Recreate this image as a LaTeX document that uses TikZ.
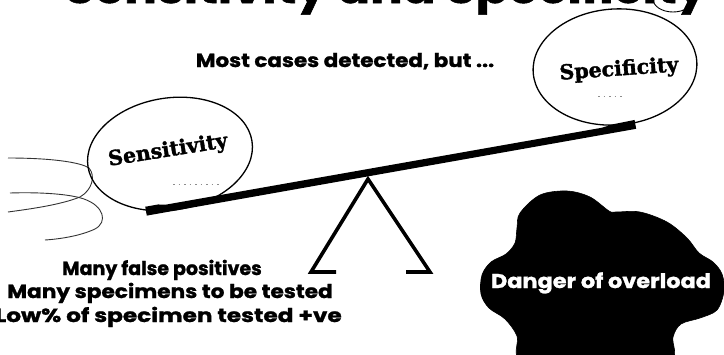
\documentclass[tikz,border=0pt]{standalone}
\usepackage{fontspec}
\setmainfont{Poppins}[BoldFeatures={FakeBold=1.2}]
\newfontfamily\ovalfont{DejaVu Serif}[BoldFeatures={FakeBold=1.6}]
\begin{document}
\begin{tikzpicture}[x=1pt,y=-1pt,
  headline/.style={font=\fontsize{44}{48}\selectfont\bfseries, inner sep=0pt, anchor=base, xscale=1.1},
  caption/.style={font=\fontsize{19}{22}\selectfont\bfseries, inner sep=0pt, anchor=base},
  lead/.style={font=\fontsize{19}{22}\selectfont\bfseries, inner sep=0pt, anchor=base, xscale=1.13},
  ovaltext/.style={font=\ovalfont\fontsize{20.5}{24}\selectfont\bfseries, inner sep=0pt},
  oval/.style={draw=black, line width=1.3pt},
  lasso/.style={draw=black!80, line width=0.9pt},
  specks/.style={draw=black!45, line width=0.8pt, dash pattern=on 1.5pt off 4pt},
  leg/.style={draw=black, line width=3.6pt, line join=miter, line cap=butt},
  cloud/.style={fill=black, draw=black, line width=0.6pt}]

\useasboundingbox (0,0) rectangle (724,354);

% heading, cut by the top edge
\node[headline] (title) at (386,3) {Sensitivity and Specificity};
\draw[oval, line width=0.9pt] (673,-1) ellipse [x radius=20, y radius=13];

% upper remark
\node[lead] (remark) at (345,67) {Most cases detected, but ...};

% loose pen strokes at the left
\draw[lasso] (8,158) .. controls (50,158) and (80,162) .. (89,168)
  .. controls (96,176) and (92,190) .. (80,197)
  .. controls (60,205) and (30,209) .. (8,212);
\draw[lasso] (10,193) .. controls (40,192) and (70,194) .. (84,199)
  .. controls (104,206) and (108,222) .. (95,229)
  .. controls (80,236) and (60,239) .. (45,240);

% the two weights
\fill[white] (170,154) ellipse [x radius=82, y radius=55];
\draw[oval, rotate around={9:(170,154)}] (170,154) ellipse [x radius=83, y radius=56];
\node[ovaltext, rotate=9] (sens) at (168,151) {Sensitivity};
\draw[specks] (173,184) -- (220,184);

\draw[oval, rotate around={4:(615,67)}] (615,67) ellipse [x radius=82, y radius=58];
\node[ovaltext, rotate=4] (spec) at (619,70) {Specificity};
\draw[specks] (598,96) -- (622,96);

% beam of the seesaw
\begin{scope}[shift={(147,211)}, rotate=10]
  \fill (-1,-4.5) -- (12,-4.5) -- (20,-3) -- (462,-3) -- (474,-4.5) -- (496,-5)
        -- (496,4) -- (-1,4.5) -- cycle;
\end{scope}

% pivot
\coordinate (apex) at (368,179);
\coordinate (lfoot) at (311,272);
\coordinate (rfoot) at (430,272);
\draw[leg] (336,272) -- (lfoot) -- (apex) -- (rfoot) -- (406,272);

% lower remarks
\node[caption] (l1) at (162,275) {Many false positives};
\node[caption, xscale=1.14] (l2) at (170,298) {Many specimens to be tested};
\node[caption, anchor=base east, xscale=1.22] (l3) at (342,322) {Low\% of specimen tested +ve};

% warning cloud
\path[cloud] plot[smooth cycle, tension=0.55] coordinates {
  (520,213) (540,195) (567,191) (590,197) (609,211) (616,212)
  (640,212) (667,222) (687,238) (699,253) (713,262) (722,274)
  (724,291) (717,310) (700,318) (681,324) (673,337) (669,362)
  (600,368) (523,362) (517,336) (505,319) (489,308) (481,294)
  (482,275) (491,262) (506,254) (515,243) (517,228)};
\node[caption, text=white, font=\fontsize{20}{22}\selectfont\bfseries, xscale=1.12] (danger) at (601,288) {Danger of overload};

\end{tikzpicture}
\end{document}
